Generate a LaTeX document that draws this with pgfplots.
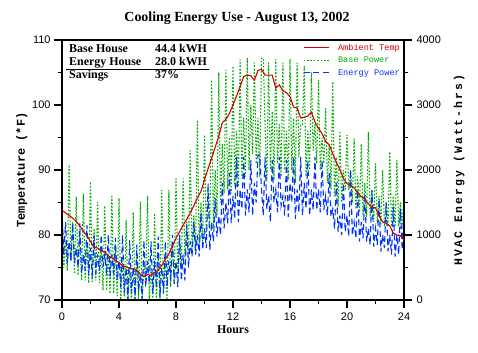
\documentclass[border=0pt]{standalone}
\usepackage{pgfplots}
\usepackage{pgfplotstable}
\pgfplotsset{compat=1.18}
\usepackage{fontspec}
\setmainfont{Liberation Serif}
\newfontfamily\sansf{Liberation Sans}
\newfontfamily\monof{Liberation Mono}
\newfontfamily\monols[LetterSpace=18]{Liberation Mono}
\definecolor{tred}{RGB}{210,0,0}
\definecolor{tgreen}{RGB}{0,170,0}
\definecolor{tblue}{RGB}{0,51,255}

\pgfplotstableread{
t T
0.00 83.8
0.25 83.4
0.50 83.0
0.75 82.6
1.00 82.1
1.25 81.4
1.50 80.6
1.75 79.9
2.00 79.0
2.25 78.1
2.50 78.0
2.75 77.6
3.00 77.4
3.25 76.8
3.50 76.5
3.75 76.0
4.00 75.8
4.25 75.2
4.50 75.1
4.75 74.9
5.00 74.8
5.25 74.6
5.50 74.0
5.75 73.6
6.00 73.9
6.25 73.8
6.50 74.2
6.75 74.6
7.00 75.3
7.25 76.2
7.50 77.1
7.75 78.3
8.00 79.5
8.25 80.5
8.50 81.5
8.75 82.4
9.00 83.4
9.25 84.5
9.50 85.7
9.75 86.7
10.00 88.5
10.25 90.2
10.50 91.8
10.75 93.5
11.00 95.2
11.25 97.3
11.50 97.8
11.75 98.7
12.00 100.0
12.25 101.4
12.50 102.8
12.75 104.4
13.00 104.6
13.25 104.5
13.50 103.8
13.75 105.3
14.00 105.5
14.25 104.6
14.50 104.6
14.75 104.6
15.00 102.6
15.25 103.1
15.50 102.2
15.75 101.9
16.00 101.3
16.25 99.7
16.50 99.5
16.75 98.0
17.00 98.1
17.25 98.3
17.50 98.9
17.75 97.4
18.00 96.4
18.25 95.6
18.50 94.4
18.75 93.9
19.00 92.5
19.25 91.2
19.50 90.1
19.75 88.7
20.00 87.9
20.25 87.6
20.50 87.3
20.75 86.4
21.00 85.9
21.25 85.5
21.50 84.8
21.75 84.3
22.00 84.2
22.25 83.0
22.50 82.0
22.75 81.8
23.00 81.4
23.25 80.3
23.50 80.0
23.75 79.9
24.00 79.2
}\temptable

\pgfplotstableread{
t b e
0.000 1400 1385
0.125 500 700
0.250 900 1200
0.375 450 560
0.500 2080 900
0.625 600 600
0.750 1200 1180
0.875 400 564
1.000 1590 800
1.125 380 500
1.250 1000 1180
1.375 300 410
1.500 1640 700
1.625 300 450
1.750 900 1150
1.875 260 380
2.000 1820 800
2.125 280 330
2.250 1100 1000
2.375 300 400
2.500 1510 700
2.625 260 450
2.750 800 1000
2.875 150 510
3.000 1450 700
3.125 150 400
3.250 700 1000
3.375 100 360
3.500 1615 700
3.625 100 400
3.750 800 950
3.875 60 300
4.000 1565 600
4.125 0 200
4.250 600 1000
4.375 50 100
4.500 1230 500
4.625 0 0
4.750 500 920
4.875 0 100
5.000 1350 500
5.125 0 0
5.250 700 850
5.375 0 150
5.500 1512 400
5.625 0 0
5.750 600 920
5.875 300 200
6.000 1600 600
6.125 0 260
6.250 500 900
6.375 0 100
6.500 1333 600
6.625 0 185
6.750 700 975
6.875 0 50
7.000 1690 500
7.125 100 100
7.250 600 900
7.375 0 200
7.500 1690 600
7.625 200 300
7.750 900 1000
7.875 250 250
8.000 1870 600
8.125 360 200
8.250 1000 1000
8.375 500 300
8.500 1870 700
8.625 650 300
8.750 1200 1150
8.875 700 500
9.000 2300 900
9.125 750 666
9.250 1300 1200
9.375 800 700
9.500 2770 1000
9.625 820 666
9.750 1500 1333
9.875 900 770
10.000 2540 1100
10.125 1000 800
10.250 1700 1795
10.375 1100 770
10.500 3385 1200
10.625 1130 900
10.750 2000 1565
10.875 1300 975
11.000 3500 1300
11.125 1500 1000
11.250 2400 1800
11.375 1640 1100
11.500 3540 1500
11.625 1700 1180
11.750 2500 1950
11.875 1640 1180
12.000 3600 1600
12.125 1750 1250
12.250 2600 2205
12.375 1740 1200
12.500 3700 1700
12.625 1870 1400
12.750 2800 2200
12.875 1900 1300
13.000 3720 1700
13.125 2000 1350
13.250 3000 2150
13.375 2250 1300
13.500 3650 1800
13.625 2100 1500
13.750 2800 2230
13.875 1900 2230
14.000 3720 1700
14.125 3720 1300
14.250 2700 2200
14.375 1820 1400
14.500 3650 1600
14.625 2000 1200
14.750 2900 2150
14.875 1850 1500
15.000 3700 1700
15.125 2100 1350
15.250 2700 2200
15.375 1900 1450
15.500 3650 1600
15.625 2000 1300
15.750 2600 2150
15.875 1846 1280
16.000 3700 1800
16.125 2000 1500
16.250 2800 2200
16.375 1800 1250
16.500 3650 1700
16.625 2200 1350
16.750 2700 2200
16.875 2700 1300
17.000 3600 1800
17.125 1900 1400
17.250 2600 2150
17.375 2000 1300
17.500 3500 1700
17.625 2300 1385
17.750 2700 2200
17.875 2100 1385
18.000 3385 1700
18.125 2000 1350
18.250 2500 2150
18.375 2100 1385
18.500 2950 1600
18.625 1800 1300
18.750 2400 1950
18.875 1700 1280
19.000 3360 1400
19.125 1600 1100
19.250 2200 1800
19.375 1435 1050
19.500 2600 1300
19.625 1500 1000
19.750 2000 1800
19.875 1700 1050
20.000 2540 1300
20.125 1690 975
20.250 2000 2000
20.375 1500 1000
20.500 2490 1200
20.625 1400 950
20.750 1900 1690
20.875 1350 900
21.000 2400 1200
21.125 1300 950
21.250 1800 1615
21.375 1280 900
21.500 2590 1100
21.625 1280 850
21.750 1700 1690
21.875 1200 820
22.000 2100 1100
22.125 1180 850
22.250 1600 1540
22.375 1150 743
22.500 2000 1000
22.625 1130 800
22.750 1500 1500
22.875 1128 750
23.000 2280 1000
23.125 1130 700
23.250 1600 1435
23.375 1128 666
23.500 2150 1000
23.625 1128 700
23.750 1500 1400
23.875 1150 770
24.000 1600 1400
}\powertable

\begin{document}
\begin{tikzpicture}
\useasboundingbox (0,0) rectangle (478bp,353bp);
\node[font=\bfseries\fontsize{14}{16}\selectfont] at (237bp,335bp) {Cooling Energy Use - August 13, 2002};
% power axis (right)
\begin{axis}[
  at={(62bp,53bp)}, anchor=south west,
  scale only axis, width=342bp, height=260bp,
  xmin=0, xmax=24, ymin=0, ymax=4000,
  hide x axis,
  axis y line*=right,
  axis line style={line width=1.1bp},
  ytick={0,1000,2000,3000,4000},
  minor ytick={500,1500,2500,3500},
  tick align=outside,
  major tick length=8bp, minor tick length=4bp,
  every tick/.style={line width=1.1bp, black},
  /pgf/number format/assume math mode=true,
  /pgf/number format/1000 sep={},
  yticklabel style={font=\sansf\fontsize{11}{12}\selectfont, xshift=1bp},
  ylabel={\monols\bfseries\fontsize{11.5}{12}\selectfont HVAC Energy (Watt-hrs)},
  ylabel style={yshift=-6bp},
]
\addplot[tgreen, line width=1.1bp, dash pattern=on 1.6bp off 1.8bp] table[x=t,y=b] {\powertable};
\addplot[tblue, line width=1.1bp, dash pattern=on 6bp off 3.5bp] table[x=t,y=e] {\powertable};
\end{axis}
% temperature axis (left)
\begin{axis}[
  at={(62bp,53bp)}, anchor=south west,
  scale only axis, width=342bp, height=260bp,
  xmin=0, xmax=24, ymin=70, ymax=110,
  axis line style={line width=1.1bp},
  xtick={0,4,...,24}, minor xtick={2,6,...,22},
  ytick={70,80,...,110}, minor ytick={75,85,95,105},
  xtick pos=bottom, ytick pos=left,
  tick align=outside,
  major tick length=8bp, minor tick length=4bp,
  every tick/.style={line width=1.1bp, black},
  /pgf/number format/assume math mode=true,
  ticklabel style={font=\sansf\fontsize{11}{12}\selectfont},
  xticklabel style={yshift=-1bp},
  xlabel={\bfseries\fontsize{12}{13}\selectfont Hours},
  xlabel style={yshift=1bp},
  ylabel={\monof\bfseries\fontsize{12}{13}\selectfont Temperature (*F)},
  ylabel style={yshift=-2bp},
  legend style={draw=none, fill=none, at={(1,1)}, anchor=north east,
    xshift=-4bp, yshift=-3bp, inner sep=0pt,
    font=\monof\fontsize{8.6}{9}\selectfont,
    nodes={inner sep=0pt, text height=7bp, text depth=2bp},
    row sep=3.5bp},
  legend cell align=left,
  /tikz/every odd column/.append style={column sep=9bp},
  legend image code/.code={\draw[#1] (0bp,0bp) -- (25bp,0bp);},
]
\addplot[tred, line width=1.1bp] table[x=t,y=T] {\temptable};
\addlegendentry{\textcolor{tred}{Ambient Temp}}
\addlegendimage{tgreen, line width=1.1bp, dash pattern=on 1.6bp off 1.8bp}
\addlegendentry{\textcolor{tgreen}{Base Power}}
\addlegendimage{tblue, line width=1.1bp, dash pattern=on 6bp off 3.5bp}
\addlegendentry{\textcolor{tblue}{Energy Power}}
\node[anchor=north west, inner sep=0pt, font=\bfseries\fontsize{12}{12.3}\selectfont]
  at (rel axis cs:0,1) [xshift=4bp, yshift=-4bp] {%
  \setlength{\arrayrulewidth}{1.2bp}%
  \begin{tabular}{@{\hspace{3bp}}p{86bp}@{}l@{\hspace{2bp}}}
  Base House & 44.4 kWH\\
  Energy House & 28.0 kWH\\ \hline
  Savings & 37\%
  \end{tabular}};
\end{axis}
\end{tikzpicture}
\end{document}
